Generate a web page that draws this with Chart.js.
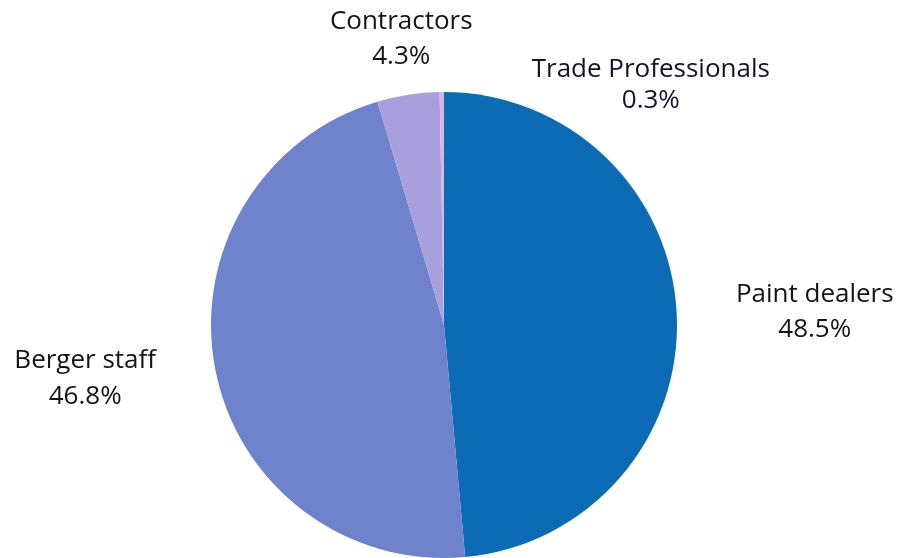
<!DOCTYPE html>
<html>
<head>
<meta charset="utf-8">
<script src="https://cdn.jsdelivr.net/npm/chart.js@4"></script>
<style>
  html, body { margin: 0; padding: 0; background: #fff; }
  #wrap { width: 900px; height: 558px; }
</style>
</head>
<body>
<div id="wrap"><canvas id="c" width="900" height="558"></canvas></div>
<script>
// Respondent groups and their share of responses (%)
const categories = ['Paint dealers', 'Berger staff', 'Contractors', 'Trade Professionals'];
const shares = [48.5, 46.8, 4.3, 0.3];
const percentLabels = ['48.5%', '46.8%', '4.3%', '0.3%'];

const sliceColors = ['#0B6BB5', '#6F83CC', '#A89FDC', '#D6B4E6'];

// Outside labels: offset (px) from each slice's outer-edge midpoint
const labelPlacement = [
  { dx: 138, dy: -2, gap: 35, color: '#141414' },
  { dx: -130, dy: 10, gap: 36, color: '#141414' },
  { dx: -7, dy: -56, gap: 35, color: '#141414' },
  { dx: 209, dy: -7, gap: 31, color: '#12122e' }
];

const outsideLabels = {
  id: 'outsideLabels',
  afterDatasetsDraw(chart) {
    const ctx = chart.ctx;
    const meta = chart.getDatasetMeta(0);
    ctx.save();
    ctx.font = '26px "Open Sans", sans-serif';
    ctx.textAlign = 'center';
    ctx.textBaseline = 'middle';
    meta.data.forEach((arc, i) => {
      const mid = (arc.startAngle + arc.endAngle) / 2;
      const ex = arc.x + arc.outerRadius * Math.cos(mid);
      const ey = arc.y + arc.outerRadius * Math.sin(mid);
      const p = labelPlacement[i];
      const x = ex + p.dx, y = ey + p.dy;
      ctx.fillStyle = p.color;
      ctx.fillText(categories[i], x, y - p.gap / 2);
      ctx.fillText(percentLabels[i], x, y + p.gap / 2);
    });
    ctx.restore();
  }
};

new Chart(document.getElementById('c'), {
  type: 'pie',
  data: {
    labels: categories,
    datasets: [{
      data: shares,
      backgroundColor: sliceColors,
      borderWidth: 0
    }]
  },
  options: {
    responsive: false,
    animation: false,
    layout: { padding: { top: 92, bottom: 0, left: 211, right: 223 } },
    plugins: {
      legend: { display: false },
      tooltip: { enabled: false }
    }
  },
  plugins: [outsideLabels]
});
</script>
</body>
</html>
